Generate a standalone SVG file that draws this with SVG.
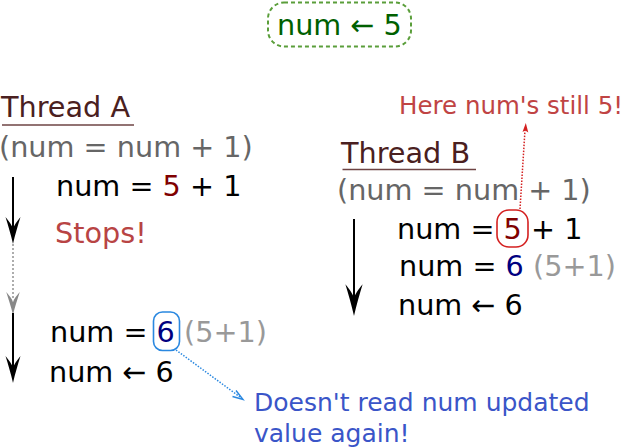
<svg xmlns="http://www.w3.org/2000/svg" width="626" height="448" viewBox="0 0 626 448">
<style>
text{font-family:"DejaVu Sans","Liberation Sans",sans-serif;font-size:28.7px;fill:#000}
.head{fill:#4a2020}
.ul{stroke:#6e4444;stroke-width:1.6}
.grey{fill:#666}
.lgrey{fill:#999}
.r5{fill:#800000}
.b6{fill:#000080}
.note{font-size:25px}
.shaft{stroke:#000;stroke-width:2;fill:none}
</style>
<defs>
<path id="ah" d="M0,0 C-2,-9 -5,-19 -7.5,-27 C-3.5,-22 -1,-19 0,-15 C1,-19 3.5,-22 7.5,-27 C5,-19 2,-9 0,0Z"/>
</defs>
<g id="init">
<rect x="268" y="2.5" width="143" height="44" rx="16" fill="none" stroke="#5a9e3a" stroke-width="2" stroke-dasharray="4,3"/>
<text x="277" y="35" style="fill:#006000">num ← 5</text>
</g>
<g id="threadA">
<text class="head" x="1" y="117">Thread A</text>
<line class="ul" x1="2" y1="125" x2="134" y2="125"/>
<text class="grey" x="-1" y="157">(num = num + 1)</text>
<text x="56" y="196">num = <tspan class="r5">5</tspan> + 1</text>
<text x="55" y="243" style="fill:#b84444">Stops!</text>
<text x="50" y="342">num = <tspan class="b6">6</tspan> <tspan class="lgrey">(5+1)</tspan></text>
<text x="49" y="382">num ← 6</text>
<rect x="153.5" y="312" width="26" height="38.5" rx="9" fill="none" stroke="#2a88e0" stroke-width="1.6"/>
</g>
<g id="threadB">
<text class="head" x="341" y="163">Thread B</text>
<line class="ul" x1="342.5" y1="169.5" x2="476" y2="169.5"/>
<text class="grey" x="337" y="200">(num = num + 1)</text>
<text x="397" y="239">num = <tspan class="r5">5</tspan> + 1</text>
<text x="399" y="276">num = <tspan class="b6">6</tspan> <tspan class="lgrey">(5+1)</tspan></text>
<text x="398" y="315">num ← 6</text>
<rect x="497" y="210" width="31" height="37" rx="12" fill="none" stroke="#d42020" stroke-width="1.6"/>
</g>
<g id="notes">
<text class="note" x="399" y="114" style="fill:#c04444;font-size:24.5px">Here num's still 5!</text>
<text class="note" x="254" y="411" style="fill:#3a55c8">Doesn't read num updated</text>
<text class="note" x="254" y="442" style="fill:#3a55c8">value again!</text>
</g>
<g id="connectors">
<line class="shaft" x1="13" y1="177" x2="13" y2="230"/>
<use href="#ah" transform="translate(13,244)"/>
<line x1="13" y1="244" x2="13" y2="298" stroke="#999" stroke-width="1.6" stroke-dasharray="2,2"/>
<use href="#ah" transform="translate(13,315) scale(0.9,0.85)" fill="#888"/>
<line class="shaft" x1="13" y1="313" x2="13" y2="370"/>
<use href="#ah" transform="translate(13,383)"/>
<line class="shaft" x1="354" y1="219" x2="354" y2="300"/>
<use href="#ah" transform="translate(354,316) scale(1.15,1.18)"/>
<line x1="520" y1="209" x2="525" y2="130" stroke="#d42020" stroke-width="1.5" stroke-dasharray="1.5,1.5"/>
<path d="M525.8,123 L522.5,132 L525.3,130.5 L528.3,132.4Z" fill="#d42020"/>
<line x1="176" y1="350" x2="240" y2="397" stroke="#2a88e0" stroke-width="1.5" stroke-dasharray="1.5,1.5"/>
<path d="M236,390.5 L243,399.5 L232.5,396.5" fill="none" stroke="#2a88e0" stroke-width="1.4"/>
</g>
</svg>
